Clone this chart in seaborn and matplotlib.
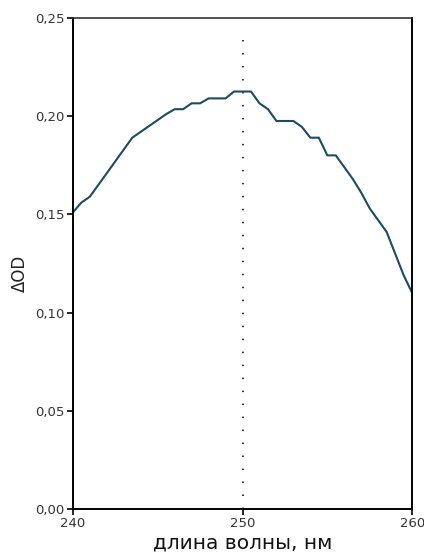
import numpy as np
import pandas as pd
import matplotlib
matplotlib.use("Agg")
import matplotlib.pyplot as plt
import seaborn as sns

# spectrum, 0.5 nm steps
wavelength = [240.0, 240.5, 241.0, 241.5, 242.0, 242.5, 243.0, 243.5, 244.0, 244.5,
              245.0, 245.5, 246.0, 246.5, 247.0, 247.5, 248.0, 248.5, 249.0, 249.5,
              250.0, 250.5, 251.0, 251.5, 252.0, 252.5, 253.0, 253.5, 254.0, 254.5,
              255.0, 255.5, 256.0, 256.5, 257.0, 257.5, 258.0, 258.5, 259.0, 259.5, 260.0]
delta_od = [0.151, 0.156, 0.159, 0.165, 0.171, 0.177, 0.183, 0.189, 0.192, 0.195,
            0.198, 0.201, 0.2035, 0.2035, 0.2065, 0.2065, 0.209, 0.209, 0.209, 0.2125,
            0.2125, 0.2125, 0.2065, 0.2035, 0.1975, 0.1975, 0.1975, 0.1945, 0.189, 0.189,
            0.180, 0.180, 0.174, 0.168, 0.161, 0.153, 0.147, 0.141, 0.130, 0.119, 0.110]
x_ticks = [240, 250, 260]
y_ticks = [0.00, 0.05, 0.10, 0.15, 0.20, 0.25]
y_tick_labels = ["0,00", "0,05", "0,10", "0,15", "0,20", "0,25"]
peak = 250

sns.set_style("white")
plt.rcParams['font.family'] = ['DejaVu Sans']

df = pd.DataFrame({"wl": wavelength, "od": delta_od})

fig = plt.figure(figsize=(4.24, 5.57), dpi=100)
ax = fig.add_axes([0.172, 0.086, 0.800, 0.882])

# dotted marker line at the peak
ax.axvline(peak, color="black", linestyle=(0, (1, 7.5)), linewidth=1.1, ymax=0.97)
sns.lineplot(data=df, x="wl", y="od", ax=ax, color="#1f4a60", linewidth=1.5)

ax.set_xlim(240, 260)
ax.set_ylim(0, 0.25)
ax.set_xticks(x_ticks)
ax.set_xticklabels([str(t) for t in x_ticks], fontsize=9.5, color="#333333")
ax.set_yticks(y_ticks)
ax.set_yticklabels(y_tick_labels, fontsize=9.5, color="#333333")
ax.tick_params(axis="both", which="major", bottom=True, left=True, top=False, right=False,
               direction="out", length=4, width=1.2, color="black", pad=2)

for side in ["left", "bottom", "right"]:
    ax.spines[side].set_color("black")
    ax.spines[side].set_linewidth(1.4)
ax.spines["top"].set_color("#333333")
ax.spines["top"].set_linewidth(1.2)

ax.set_xlabel("длина волны, нм", fontsize=14.5, labelpad=2, color="#111111")
ax.set_ylabel("ΔOD", fontsize=12, color="#222222")
ax.yaxis.set_label_coords(-0.13, 0.48)

fig.savefig("out.png", dpi=100)
